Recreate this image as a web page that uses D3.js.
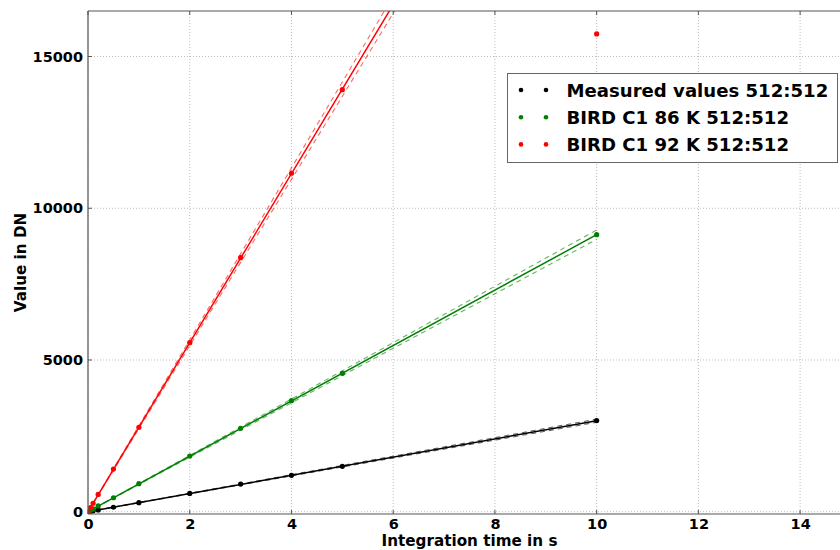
<!DOCTYPE html>
<html><head><meta charset="utf-8">
<script src="https://cdn.jsdelivr.net/npm/d3@7"></script>
<style>
body{margin:0;background:#fff;}
text{font-family:"DejaVu Sans",sans-serif;font-weight:bold;}
.tick text{font-size:14.5px;}
</style></head>
<body><svg id="c" width="840" height="550"></svg>
<script>
// Data
const times = [0, 0.05, 0.1, 0.2, 0.5, 1, 2, 3, 4, 5, 10];
const measured = [0, 15, 30, 60, 148, 298, 604, 911, 1200, 1496, 3005];
const bird86 = [0, 46, 92, 190, 461, 923, 1836, 2749, 3659, 4562, 9130];
const bird92 = [0, 140, 280, 570, 1407, 2782, 5570, 8372, 11153, 13909, 15745];
const seriesNames = ["Measured values 512:512", "BIRD C1 86 K 512:512", "BIRD C1 92 K 512:512"];
const seriesColors = ["#000000", "#008000", "#ff0000"];
const fitSlopes = [300, 913, 2785];   // DN per second (linear fit through origin)
const fitBand = [0.017, 0.017, 0.017]; // relative uncertainty for dashed lines
const fitEnd = [10, 10, 10];
const xTicks = [0, 2, 4, 6, 8, 10, 12, 14];
const yTicks = [0, 5000, 10000, 15000];

const svg = d3.select("#c");
const m = {l: 88, t: 11, w: 763, h: 503};
const x = d3.scaleLinear().domain([0, 15]).range([m.l, m.l + m.w]);
const y = d3.scaleLinear().domain([-75, 16500]).range([m.t + m.h, m.t]);

svg.append("defs").append("clipPath").attr("id", "clip")
  .append("rect").attr("x", m.l).attr("y", m.t).attr("width", m.w).attr("height", m.h);

// grid
const grid = svg.append("g");
grid.selectAll(".gx").data(xTicks).enter().append("line")
  .attr("x1", d => x(d)).attr("x2", d => x(d)).attr("y1", m.t).attr("y2", m.t + m.h)
  .attr("stroke", "#aaa").attr("stroke-width", 0.8).attr("stroke-dasharray", "1,2");
grid.selectAll(".gy").data(yTicks).enter().append("line")
  .attr("x1", m.l).attr("x2", m.l + m.w).attr("y1", d => y(d)).attr("y2", d => y(d))
  .attr("stroke", "#aaa").attr("stroke-width", 0.8).attr("stroke-dasharray", "1,2");

// axes
const xAxis = d3.axisBottom(x).tickValues(xTicks).tickSize(0).tickPadding(4.5).tickFormat(d3.format("d"));
const gx = svg.append("g").attr("transform", `translate(0,${m.t + m.h})`).call(xAxis)
  .attr("font-size", 14.5).attr("font-family", "DejaVu Sans").attr("font-weight", "bold");
gx.select(".domain").remove();
gx.selectAll("text").attr("font-size", 14.5).style("font-size", "14.5px").attr("fill", "#000");
const yAxis = d3.axisLeft(y).tickValues(yTicks).tickSize(0).tickPadding(5).tickFormat(d3.format("d"));
const gy = svg.append("g").attr("transform", `translate(${m.l},0)`).call(yAxis)
  .attr("font-size", 14.5).attr("font-family", "DejaVu Sans").attr("font-weight", "bold");
gy.select(".domain").remove();
gy.selectAll("text").attr("font-size", 14.5).style("font-size", "14.5px").attr("fill", "#000");

// inward tick marks
const tk = svg.append("g").attr("stroke", "#555").attr("stroke-width", 1);
xTicks.forEach(t => {
  tk.append("line").attr("x1", x(t)).attr("x2", x(t)).attr("y1", m.t + m.h).attr("y2", m.t + m.h - 4);
  tk.append("line").attr("x1", x(t)).attr("x2", x(t)).attr("y1", m.t).attr("y2", m.t + 4);
});
yTicks.forEach(t => {
  tk.append("line").attr("x1", m.l).attr("x2", m.l + 4).attr("y1", y(t)).attr("y2", y(t));
});

// data
const allSeries = [measured, bird86, bird92];
const plot = svg.append("g").attr("clip-path", "url(#clip)");
const line = d3.line().x(d => x(d[0])).y(d => y(d[1]));
allSeries.forEach((vals, i) => {
  const c = seriesColors[i];
  const s = fitSlopes[i];
  [1 + fitBand[i], 1 - fitBand[i]].forEach(f => {
    plot.append("path").datum([[0, 0], [fitEnd[i], s * f * fitEnd[i]]])
      .attr("d", line).attr("fill", "none").attr("stroke", c).attr("stroke-opacity", 0.6)
      .attr("stroke-width", 1.1).attr("stroke-dasharray", "5,4");
  });
  plot.append("path").datum([[0, 0], [fitEnd[i], s * fitEnd[i]]])
    .attr("d", line).attr("fill", "none").attr("stroke", c).attr("stroke-width", 1.5);
  plot.selectAll(null).data(times.map((t, j) => [t, vals[j]])).enter().append("circle")
    .attr("cx", d => x(d[0])).attr("cy", d => y(d[1])).attr("r", 2.6).attr("fill", c);
});

// spines
svg.append("line").attr("x1", m.l).attr("x2", m.l).attr("y1", m.t).attr("y2", m.t + m.h).attr("stroke", "#555").attr("stroke-width", 1.2);
svg.append("line").attr("x1", m.l).attr("x2", m.l + m.w).attr("y1", m.t + m.h).attr("y2", m.t + m.h).attr("stroke", "#555").attr("stroke-width", 1.2);
svg.append("line").attr("x1", m.l).attr("x2", m.l + m.w).attr("y1", m.t).attr("y2", m.t).attr("stroke", "#555").attr("stroke-width", 1.2);

// axis labels
svg.append("text").attr("x", m.l + m.w / 2).attr("y", 546).attr("text-anchor", "middle")
  .style("font-size", "15.2px").text("Integration time in s");
svg.append("text").attr("transform", `translate(26,${m.t + m.h / 2}) rotate(-90)`).attr("text-anchor", "middle")
  .style("font-size", "15.2px").text("Value in DN");

// legend
const lg = svg.append("g");
lg.append("rect").attr("x", 507.5).attr("y", 73.5).attr("width", 330).attr("height", 89)
  .attr("fill", "#fff").attr("stroke", "#666").attr("stroke-width", 1);
seriesNames.forEach((n, i) => {
  const cy = 90 + i * 27.2;
  [521, 546].forEach(cx => lg.append("circle").attr("cx", cx).attr("cy", cy).attr("r", 2.3).attr("fill", seriesColors[i]));
  lg.append("text").attr("x", 566.5).attr("y", cy).attr("dy", "0.36em").style("font-size", "18.1px").text(n);
});
</script></body></html>
